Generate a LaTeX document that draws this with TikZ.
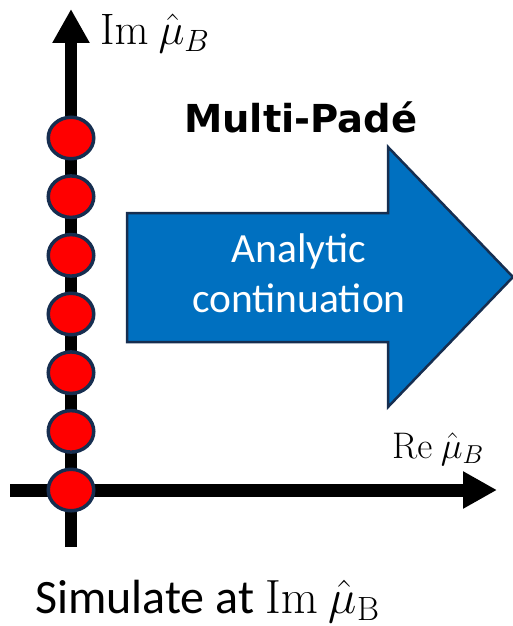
\RequirePackage{fix-cm}
\documentclass[tikz,border=0pt]{standalone}
\usepackage[no-math]{fontspec}
\setmainfont{Carlito}
\newfontfamily\boldsans{DejaVu Sans}
\usetikzlibrary{shapes.geometric,arrows.meta}
\definecolor{navy}{RGB}{22,46,80}
\definecolor{pblue}{RGB}{0,112,192}
\tikzset{
  axis/.style={draw=black,line width=12pt,-{Triangle[length=34pt,width=35pt]}},
  simpt/.style={shape=ellipse,fill=red,draw=navy,line width=3.5pt,minimum width=45.5pt,minimum height=41.5pt,inner sep=0pt},
  bigarrow/.style={fill=pblue,draw=navy,line width=2.5pt,line join=miter},
  lbl/.style={inner sep=0pt,anchor=base west}
}
\begin{document}
\begin{tikzpicture}[x=1pt,y=-1pt]
\useasboundingbox (0,0) rectangle (513,626);
% axes
\coordinate (vb) at (71,547);
\coordinate (vt) at (71,9);
\coordinate (hl) at (10,490);
\coordinate (hr) at (497,490);
\draw[axis] (vb) -- (vt);
\draw[axis,line width=13pt] (hl) -- (hr);
% big arrow
\draw[bigarrow] (127,213) -- (388,213) -- (388,147) -- (513,277) -- (388,407) -- (388,342) -- (127,342) -- cycle;
\node[inner sep=0pt,text=white,align=center,font=\fontsize{41.5}{50}\selectfont] (ac) at (299,273) {Analytic\\continuation};
\node[lbl,font=\boldsans\bfseries\fontsize{38.5}{42}\selectfont] (mp) at (184,132) {Multi-Padé};
% points
\foreach \i in {0,...,6}{
  \node[simpt] (p\i) at (71,{138+58.67*\i}) {};
}
% labels
\node[lbl,font=\fontsize{44}{48}\selectfont] (im) at (100,45) {$\mathrm{Im}\ \hat{\mu}_B$};
\node[lbl,font=\fontsize{37}{40}\selectfont] (re) at (392,458) {$\mathrm{Re}\ \hat{\mu}_B$};
\node[lbl,font=\fontsize{48}{52}\selectfont] (sim) at (35,613) {Simulate at $\mathrm{Im}\ \hat{\mu}_{\mathrm{B}}$};
\end{tikzpicture}
\end{document}
